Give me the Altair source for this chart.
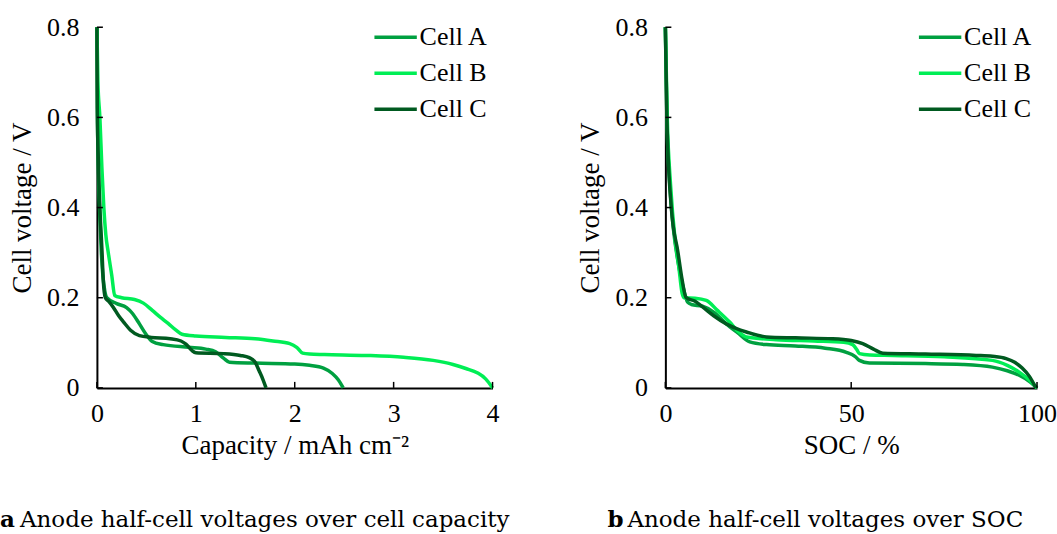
import altair as alt
import pandas as pd

cells = ["Cell A", "Cell B", "Cell C"]
colors = ["#00a040", "#00ee55", "#005a20"]

# Discharge curves over areal capacity (mAh cm^-2) and voltage (V)
cap_a = [0, 0.005, 0.015, 0.03, 0.045, 0.06, 0.08, 0.10, 0.20, 0.30, 0.36, 0.43, 0.50, 0.56,
         0.67, 0.93, 1.10, 1.20, 1.28, 1.34, 1.60, 2.00, 2.15, 2.29, 2.38, 2.44, 2.49]
u_cap_a = [0.80, 0.62, 0.48, 0.38, 0.30, 0.25, 0.215, 0.200, 0.187, 0.178, 0.165, 0.142, 0.118, 0.103,
           0.096, 0.090, 0.086, 0.080, 0.066, 0.057, 0.055, 0.053, 0.050, 0.044, 0.032, 0.018, 0.0]

cap_b = [0, 0.01, 0.03, 0.05, 0.07, 0.09, 0.115, 0.15, 0.18, 0.25, 0.38, 0.47, 0.56, 0.64, 0.72,
         0.80, 0.86, 1.00, 1.30, 1.60, 1.78, 1.95, 2.02, 2.08, 2.15, 2.30, 2.72, 3.10, 3.40, 3.60,
         3.73, 3.85, 3.93, 4.00]
u_cap_b = [0.80, 0.68, 0.60, 0.49, 0.40, 0.34, 0.30, 0.25, 0.205, 0.200, 0.196, 0.188, 0.172, 0.157,
           0.143, 0.128, 0.119, 0.115, 0.112, 0.109, 0.104, 0.098, 0.090, 0.077, 0.075, 0.074, 0.072,
           0.068, 0.061, 0.052, 0.043, 0.033, 0.020, 0.0]

cap_c = [0, 0.004, 0.015, 0.03, 0.05, 0.064, 0.085, 0.12, 0.165, 0.22, 0.27, 0.34, 0.43, 0.55,
         0.74, 0.85, 0.90, 0.96, 1.00, 1.28, 1.45, 1.54, 1.60, 1.64, 1.68, 1.71]
u_cap_c = [0.80, 0.62, 0.50, 0.40, 0.31, 0.24, 0.20, 0.192, 0.179, 0.160, 0.146, 0.128, 0.116, 0.112,
           0.109, 0.104, 0.097, 0.083, 0.078, 0.076, 0.072, 0.067, 0.057, 0.038, 0.018, 0.0]

# Same curves over state of charge (%)
soc_a = [0, 0.4, 1.2, 2.2, 3.4, 4.6, 6.0, 7.0, 10.0, 13.0, 16.4, 19.5, 22.7, 27.2, 35, 43, 48.7,
         51, 52.2, 54.9, 70, 80, 88, 92, 95.2, 98, 100]
u_soc_a = [0.80, 0.60, 0.45, 0.35, 0.28, 0.23, 0.19, 0.185, 0.181, 0.168, 0.142, 0.122, 0.102, 0.096,
           0.093, 0.088, 0.079, 0.070, 0.061, 0.055, 0.054, 0.052, 0.046, 0.038, 0.028, 0.014, 0.0]

soc_b = [0, 0.5, 1.4, 2.6, 3.6, 4.5, 5.0, 8.0, 11, 14, 17.3, 19.5, 21.8, 29.8, 40, 48, 50.4, 51.5,
         52.2, 55, 61.2, 75, 88, 92, 95.2, 98, 100]
u_soc_b = [0.80, 0.60, 0.45, 0.33, 0.27, 0.21, 0.200, 0.199, 0.194, 0.172, 0.146, 0.126, 0.113, 0.107,
           0.104, 0.101, 0.096, 0.085, 0.076, 0.073, 0.072, 0.069, 0.061, 0.050, 0.035, 0.017, 0.0]

soc_c = [0, 0.4, 1.6, 3.4, 4.3, 5.6, 8.0, 10.1, 13, 16.4, 19, 21.8, 27.2, 35, 45, 50, 53.1, 56,
         58.5, 70, 83.6, 88, 91.7, 94, 96, 98, 99.7]
u_soc_c = [0.80, 0.60, 0.40, 0.30, 0.25, 0.20, 0.192, 0.179, 0.160, 0.142, 0.132, 0.124, 0.113, 0.111,
           0.109, 0.105, 0.098, 0.086, 0.077, 0.075, 0.072, 0.070, 0.065, 0.057, 0.044, 0.025, 0.0]

voltage_ticks = [0, 0.2, 0.4, 0.6, 0.8]
capacity_ticks = [0, 1, 2, 3, 4]
soc_ticks = [0, 50, 100]

captions = {
    "a": "Anode half-cell voltages over cell capacity",
    "b": "Anode half-cell voltages over SOC",
}

AXIS_FONT = "Liberation Serif"
W_LEFT, W_RIGHT, H = 396, 372, 361
TICK = 6


def long_table(xs, ys, xname):
    rows = []
    for cell, x, y in zip(cells, xs, ys):
        for i, (a, b) in enumerate(zip(x, y)):
            rows.append({"cell": cell, xname: a, "voltage": b, "i": i})
    return pd.DataFrame(rows)


def axis(values, title, label_expr=None, padding=14, title_padding=6):
    kw = dict(values=values, title=title, grid=False, ticks=False,
              labelFont=AXIS_FONT, labelFontSize=26, labelColor="black",
              titleFont=AXIS_FONT, titleFontSize=27, titleFontWeight="normal",
              titleColor="black", domainColor="black", domainWidth=2,
              labelPadding=padding, titlePadding=title_padding, labelFlush=False)
    if label_expr:
        kw["labelExpr"] = label_expr
    return alt.Axis(**kw)


def panel(df, xname, xdomain, xticks, xtitle, width, letter, cap_x, legend_x, legend_pad):
    xs = alt.Scale(domain=xdomain, nice=False, zero=False)
    ys = alt.Scale(domain=[0, 0.8], nice=False)
    x_enc = alt.X(f"{xname}:Q", scale=xs,
                  axis=axis(xticks, xtitle, "format(datum.value, 'd')", padding=13, title_padding=6))
    y_enc = alt.Y("voltage:Q", scale=ys,
                  axis=axis(voltage_ticks, "Cell voltage / V",
                            "datum.value == 0 ? '0' : format(datum.value, '.1f')",
                            padding=18, title_padding=10))

    lines = alt.Chart(df).mark_line(strokeWidth=3.5, interpolate="monotone").encode(
        x=x_enc, y=y_enc, order="i:Q",
        color=alt.Color("cell:N",
                        scale=alt.Scale(domain=cells, range=colors),
                        legend=alt.Legend(orient="none", legendX=legend_x, legendY=-13,
                                          title=None, symbolType="stroke", symbolSize=1800,
                                          symbolStrokeWidth=3.5, labelFont=AXIS_FONT,
                                          labelFontSize=26, labelColor="black",
                                          labelOffset=1, rowPadding=legend_pad)),
    )

    # inward tick marks on both axes
    yt = alt.Chart(pd.DataFrame({"voltage": voltage_ticks})).mark_rule(
        color="black", strokeWidth=1.5).encode(y=y_enc, x=alt.value(0), x2=alt.value(TICK))
    xt = alt.Chart(pd.DataFrame({xname: xticks})).mark_rule(
        color="black", strokeWidth=1.5).encode(x=x_enc, y=alt.value(H), y2=alt.value(H - TICK))

    # sub-figure caption below the panel
    cap_tab = pd.DataFrame({"letter": [letter], "text": [captions[letter]]})
    cap_letter = alt.Chart(cap_tab).mark_text(
        font="DejaVu Serif", fontSize=23, fontWeight="bold", align="left",
        baseline="alphabetic", color="black").encode(
        text="letter:N", x=alt.value(cap_x), y=alt.value(500))
    cap_text = alt.Chart(cap_tab).mark_text(
        font="DejaVu Serif", fontSize=23, align="left",
        baseline="alphabetic", color="black").encode(
        text="text:N", x=alt.value(cap_x + 20), y=alt.value(500))

    return alt.layer(lines, yt, xt, cap_letter, cap_text).properties(width=width, height=H)


left = panel(long_table([cap_a, cap_b, cap_c], [u_cap_a, u_cap_b, u_cap_c], "capacity"),
             "capacity", [0, 4], capacity_ticks, "Capacity / mAh cm⁻²", W_LEFT, "a", -97, 276, -2)
right = panel(long_table([soc_a, soc_b, soc_c], [u_soc_a, u_soc_b, u_soc_c], "soc"),
              "soc", [0, 100], soc_ticks, "SOC / %", W_RIGHT, "b", -58, 252, -3)

chart = alt.hconcat(left, right, spacing=173, bounds="flush").resolve_scale(
    color="independent").properties(
    padding={"left": 0, "top": 14, "right": 0, "bottom": 0}).configure_view(stroke=None)

chart.save("out.html", embed_options={"renderer": "svg", "actions": False})
